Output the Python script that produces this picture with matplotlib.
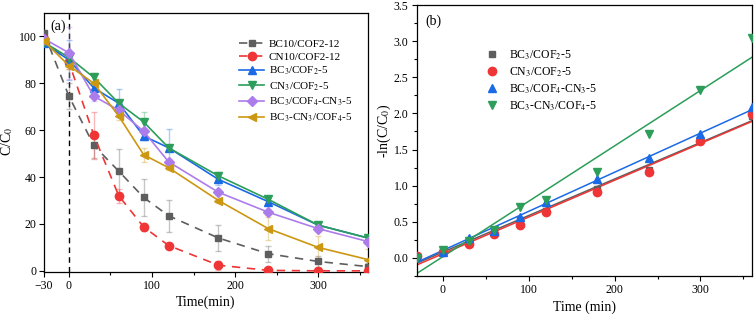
import numpy as np
import matplotlib
matplotlib.use("Agg")
import matplotlib.pyplot as plt
from matplotlib.ticker import MultipleLocator

plt.rcParams['font.family'] = ['Liberation Serif', 'DejaVu Serif']
plt.rcParams['mathtext.fontset'] = 'stix'

# ---------------- data ----------------
t = [-30, 0, 30, 60, 90, 120, 180, 240, 300, 360]

labels_a = ["BC10/COF2-12", "CN10/COF2-12", "BC$_3$/COF$_2$-5", "CN$_3$/COF$_2$-5",
            "BC$_3$/COF$_4$-CN$_3$-5", "BC$_3$-CN$_3$/COF$_4$-5"]
bc10 = [101.5, 74.5, 53.5, 42.5, 31.3, 23.5, 14.0, 7.3, 4.0, 1.8]
cn10 = [99.0, 89.0, 57.8, 32.0, 18.7, 10.8, 2.4, 0.2, 0.0, 0.0]
bc3 = [97.0, 90.0, 78.0, 71.5, 57.5, 52.5, 39.0, 29.5, 19.5, 14.0]
cn3 = [97.5, 91.0, 82.5, 71.5, 63.5, 52.5, 40.5, 30.5, 19.5, 14.0]
bc3cof4cn3 = [99.0, 93.0, 74.5, 68.5, 59.5, 46.5, 33.5, 25.0, 18.0, 12.5]
bc3cn3cof4 = [98.0, 87.5, 80.0, 66.0, 49.5, 44.0, 30.0, 18.0, 10.0, 4.8]

err_bc10 = [0.5, 5.5, 5.5, 9.5, 7.8, 6.8, 5.6, 3.5, 2.3, 1.5]
err_cn10 = [0.5, 3.0, 10.0, 3.0, 1.5, 1.0, 2.0, 0.5, 0.5, 0.5]
err_bc3 = [1.0, 8.5, 2.0, 6.0, 1.5, 8.0, 2.5, 1.5, 1.0, 1.0]
err_cn3 = [1.0, 1.0, 1.5, 1.0, 4.3, 1.0, 1.5, 1.5, 1.0, 1.0]
err_bc3cof4cn3 = [1.0, 11.0, 2.0, 2.0, 1.5, 1.0, 1.0, 1.0, 1.0, 1.0]
err_bc3cn3cof4 = [1.0, 1.5, 4.5, 1.5, 3.0, 1.0, 1.0, 5.0, 5.0, 4.5]

labels_b = ["BC$_3$/COF$_2$-5", "CN$_3$/COF$_2$-5", "BC$_3$/COF$_4$-CN$_3$-5", "BC$_3$-CN$_3$/COF$_4$-5"]
k_bc3 = [0.02, 0.09, 0.22, 0.36, 0.52, 0.65, 0.95, 1.22, 1.63, 1.97]
k_cn3 = [0.03, 0.08, 0.19, 0.33, 0.46, 0.64, 0.91, 1.19, 1.62, 1.99]
k_bc3cof4cn3 = [0.01, 0.08, 0.28, 0.37, 0.56, 0.77, 1.09, 1.38, 1.71, 2.09]
k_bc3cn3cof4 = [0.00, 0.11, 0.24, 0.39, 0.70, 0.80, 1.19, 1.72, 2.32, 3.05]

# ---------------- styles ----------------
c_gray = '#5e5e5e'
c_red = '#ef3535'
c_blue = '#1a6ae6'
c_green = '#2c9e5a'
c_purple = '#ad7ceb'
c_gold = '#cc9812'

fig = plt.figure(figsize=(7.56, 3.21), dpi=100)
ax1 = fig.add_axes([0.0582, 0.1526, 0.4286, 0.807])
ax2 = fig.add_axes([0.5516, 0.1402, 0.4431, 0.8442])

series_a = [
    (bc10, err_bc10, c_gray, 's', (0, (5, 4)), 5),
    (cn10, err_cn10, c_red, 'o', (0, (5, 4)), 6),
    (bc3, err_bc3, c_blue, '^', '-', 6),
    (cn3, err_cn3, c_green, 'v', '-', 6),
    (bc3cof4cn3, err_bc3cof4cn3, c_purple, 'D', '-', 5),
    (bc3cn3cof4, err_bc3cn3cof4, c_gold, '<', '-', 6),
]
for (y, e, c, m, ls, ms), lab in zip(series_a, labels_a):
    ax1.errorbar(t, y, yerr=e, fmt='none', ecolor=c, alpha=0.35, capsize=2.5,
                 elinewidth=1, capthick=1, zorder=2)
    ax1.plot(t, y, color=c, marker=m, ls=ls, lw=1.2, ms=ms, label=lab, zorder=3)

ax1.axvline(0, color='black', ls=(0, (4, 3)), lw=1.0, zorder=1)
ax1.set_xlim(-30, 360)
ax1.set_ylim(-0.5, 110)
ax1.set_xticks([-30, 0, 100, 200, 300])
ax1.xaxis.set_minor_locator(matplotlib.ticker.FixedLocator([50, 150, 250, 350]))
ax1.set_yticks([0, 20, 40, 60, 80, 100])
ax1.tick_params(axis='both', which='major', labelsize=8.5, direction='out', length=3.5,
                width=0.8, pad=2)
ax1.tick_params(axis='both', which='minor', direction='out', length=2, width=0.8)
ax1.set_xlabel("Time(min)", fontsize=10, labelpad=3)
ax1.set_ylabel("C/C$_0$", fontsize=10)
ax1.yaxis.set_label_coords(-0.089, 0.506)
ax1.text(0.02, 0.975, "(a)", transform=ax1.transAxes, fontsize=10, va='top', ha='left')
ax1.legend(loc='upper right', bbox_to_anchor=(0.975, 0.93), frameon=False, fontsize=8,
           handlelength=2.3, handletextpad=0.4, labelspacing=0.28, borderaxespad=0.3)

series_b = [
    (k_bc3, c_gray, 's', 5),
    (k_cn3, c_red, 'o', 6),
    (k_bc3cof4cn3, c_blue, '^', 6),
    (k_bc3cn3cof4, c_green, 'v', 6),
]
xfit = np.array([-30, 360])
for (y, c, m, ms), lab in zip(series_b, labels_b):
    ax2.plot(t, y, ls='none', marker=m, color=c, ms=ms, label=lab, zorder=3)
    p = np.polyfit(t, y, 1)
    ax2.plot(xfit, np.polyval(p, xfit), color=c, lw=1.1, zorder=2)

ax2.set_xlim(-30, 360)
ax2.set_ylim(-0.25, 3.5)
ax2.set_xticks([0, 100, 200, 300])
ax2.xaxis.set_minor_locator(MultipleLocator(50))
ax2.yaxis.set_major_locator(MultipleLocator(0.5))
ax2.yaxis.set_minor_locator(MultipleLocator(0.25))
ax2.tick_params(axis='both', which='major', labelsize=8.5, direction='out', length=3.5,
                width=0.8, pad=2.5)
ax2.tick_params(axis='both', which='minor', direction='out', length=2, width=0.8)
ax2.set_xlabel("Time (min)", fontsize=10, labelpad=3)
ax2.set_ylabel("-ln(C/C$_0$)", fontsize=10)
ax2.yaxis.set_label_coords(-0.072, 0.535)
ax2.text(0.025, 0.965, "(b)", transform=ax2.transAxes, fontsize=10, va='top', ha='left')
ax2.legend(loc='upper left', bbox_to_anchor=(0.17, 0.88), frameon=False, fontsize=8.5,
           handlelength=1.2, handletextpad=0.9, labelspacing=0.3)

for ax in (ax1, ax2):
    for s in ax.spines.values():
        s.set_linewidth(0.9)

fig.savefig("out.png", dpi=100)
